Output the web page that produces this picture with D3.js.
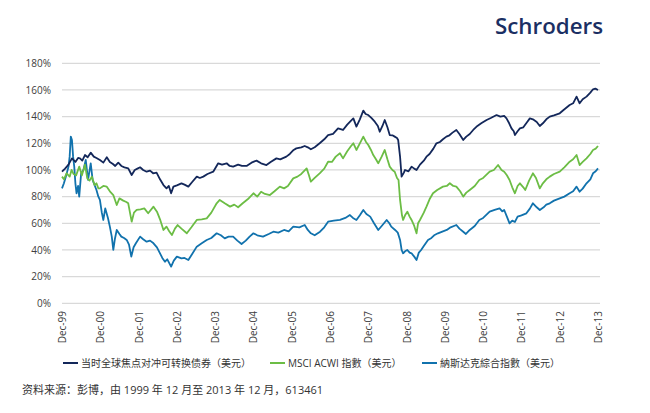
<!DOCTYPE html>
<html><head><meta charset="utf-8">
<script src="https://cdn.jsdelivr.net/npm/d3@7/dist/d3.min.js"></script>
<style>
body{margin:0;background:#fff;}
svg{display:block;font-family:"Open Sans","Noto Sans CJK SC",sans-serif;}
</style></head><body>
<script>
// ---- Data (t = years since Dec-1999, value in %) ----
const yTickValues = [0,20,40,60,80,100,120,140,160,180];
const xTickLabels = ["Dec-99","Dec-00","Dec-01","Dec-02","Dec-03","Dec-04","Dec-05","Dec-06","Dec-07","Dec-08","Dec-09","Dec-10","Dec-11","Dec-12","Dec-13"];
const seriesNames = ["当时全球焦点对冲可转换债券（美元）","MSCI ACWI 指數（美元）","納斯达克綜合指數（美元）"];
const seriesColors = ["#13275a","#6cbd45","#1172ad"];

const convT = [0,0.08,0.17,0.26,0.35,0.42,0.47,0.53,0.6,0.67,0.75,0.83,0.9,0.99,1.08,1.17,1.25,1.33,1.39,1.47,1.55,1.63,1.73,1.82,1.9,1.97,2.04,2.12,2.21,2.3,2.38,2.47,2.56,2.65,2.73,2.79,2.85,2.91,3.0,3.12,3.2,3.3,3.4,3.52,3.6,3.69,3.8,3.95,4.08,4.18,4.3,4.38,4.47,4.6,4.7,4.82,4.95,5.08,5.2,5.34,5.45,5.6,5.7,5.86,5.95,6.05,6.12,6.25,6.34,6.42,6.5,6.6,6.73,6.85,6.95,7.08,7.21,7.34,7.45,7.55,7.61,7.69,7.78,7.87,7.93,8.0,8.08,8.17,8.25,8.3,8.37,8.43,8.5,8.56,8.63,8.69,8.75,8.78,8.83,8.87,8.93,8.96,9.05,9.13,9.2,9.26,9.35,9.45,9.52,9.6,9.7,9.78,9.87,9.95,10.04,10.12,10.2,10.3,10.38,10.48,10.56,10.65,10.74,10.85,10.95,11.09,11.2,11.35,11.45,11.55,11.61,11.68,11.74,11.8,11.83,11.9,11.96,12.05,12.15,12.22,12.3,12.4,12.48,12.56,12.65,12.74,12.85,13.0,13.1,13.26,13.35,13.44,13.52,13.6,13.7,13.8,13.87,13.93,14.0];
const convV = [98.7,101,104,108.7,106,109,108.7,107,111.2,109.5,113,110,109,107.5,105.5,109.5,106,104.5,103,105.5,103,102,101.2,96.2,100,101,102,100,98.7,99.5,97.5,98,93,88.7,86.2,88,82.5,87.5,88.5,90,89,87.5,91,95,94,95,97,98.7,105,104,105,103,102.5,104,103,103,105.5,107,105,103.7,106,108.7,108,110,112,115,116.2,117,118,117,115.5,117,120,123,126.2,127,131.2,130,134,137,138.7,132.5,138,144.5,142,141.2,139,136.2,133,128.7,133,137.5,132,126.2,126,125,124,122.5,110,95,98,100,99,102.5,101,100,104,107,110,112,116,120,121,123,125,126,128,130,127,122.5,125,127,130,133,135,137.5,139,141.2,140,140.5,138.7,135,131.2,129,126.2,129,131.2,132,136,138.7,138,136,133,135,138,140,141,142.5,145,148.7,150,155,150,153,155,158,160.5,161,160];

const msciT = [0,0.05,0.12,0.2,0.25,0.3,0.37,0.45,0.52,0.6,0.66,0.72,0.78,0.85,0.9,0.95,0.99,1.08,1.17,1.25,1.34,1.43,1.5,1.6,1.68,1.73,1.82,1.88,1.95,2.05,2.15,2.25,2.39,2.48,2.56,2.65,2.73,2.8,2.87,2.95,3.02,3.12,3.26,3.38,3.52,3.65,3.78,3.9,4.04,4.12,4.25,4.39,4.5,4.6,4.72,4.85,5.0,5.1,5.2,5.3,5.43,5.55,5.69,5.8,5.9,6.04,6.15,6.25,6.39,6.45,6.5,6.6,6.73,6.85,6.95,7.05,7.15,7.26,7.34,7.45,7.55,7.61,7.69,7.78,7.87,7.94,8.0,8.07,8.13,8.2,8.26,8.35,8.43,8.5,8.56,8.63,8.69,8.75,8.79,8.83,8.88,8.91,8.96,9.02,9.08,9.13,9.2,9.26,9.3,9.35,9.45,9.52,9.6,9.69,9.8,9.95,10.05,10.13,10.22,10.3,10.4,10.48,10.56,10.65,10.78,10.9,11.0,11.17,11.28,11.39,11.48,11.55,11.62,11.69,11.76,11.83,11.9,11.96,12.05,12.1,12.2,12.3,12.38,12.48,12.56,12.65,12.74,12.85,13.0,13.12,13.26,13.35,13.44,13.52,13.6,13.7,13.8,13.87,13.94,14.0];
const msciV = [95,93,97.5,95,100,97,96,102.5,96,104,93.7,92,95,88.7,90,86.2,86.2,88,87.5,84,81.2,73.7,78.7,77,76,75,61.2,68,70,70.5,71.2,67.5,72.5,68.7,63,55,57.5,54,51.2,56,58.7,56,52.5,57,62.5,63,63.7,68,75,77.5,75,72.5,74,72,75,78,82.5,80,83.7,82,81.2,84,87.5,86.2,88,93.7,95,97,101.2,96,91.2,94,97.5,101,106.2,106,110,112.5,108.7,114,118,120,115,120,125,121,118.7,115,111.2,108,105,110,115,108,102.5,100,98.7,94,92.5,77.5,66,62.5,66,68.7,65,62.5,58,52.5,60,62.5,68,72.5,78,82.5,85,87.5,88,90,88,87.5,84,80,83,85,88,92.5,94,98.7,100,103.7,100,98.7,96,92.5,87,82.5,88,90,87,85,92,97.5,94,86.2,90,93,95,97,98.7,102,106.2,108,111.2,103.7,106,108.7,112,115,116,118];

const nasdT = [0,0.05,0.1,0.17,0.2,0.23,0.26,0.29,0.32,0.35,0.38,0.42,0.45,0.5,0.56,0.62,0.68,0.75,0.8,0.9,0.95,0.99,1.04,1.08,1.13,1.2,1.25,1.3,1.34,1.38,1.43,1.5,1.55,1.62,1.69,1.75,1.81,1.87,1.93,2.04,2.12,2.21,2.3,2.39,2.48,2.56,2.62,2.69,2.75,2.85,2.92,3.0,3.12,3.2,3.3,3.4,3.52,3.65,3.78,3.9,4.04,4.15,4.25,4.35,4.47,4.58,4.69,4.8,4.9,5.0,5.1,5.25,5.4,5.52,5.65,5.8,5.92,6.04,6.2,6.34,6.42,6.5,6.6,6.74,6.85,6.95,7.1,7.26,7.4,7.52,7.6,7.69,7.78,7.87,7.95,8.05,8.15,8.26,8.35,8.48,8.55,8.6,8.7,8.77,8.83,8.87,8.91,8.96,9.02,9.08,9.13,9.2,9.26,9.32,9.38,9.45,9.56,9.65,9.72,9.82,9.95,10.05,10.15,10.3,10.38,10.48,10.55,10.65,10.78,10.9,11.0,11.17,11.3,11.43,11.5,11.55,11.62,11.69,11.76,11.83,11.9,12.0,12.13,12.22,12.3,12.4,12.48,12.58,12.65,12.74,12.85,13.0,13.12,13.26,13.35,13.44,13.52,13.6,13.7,13.8,13.87,13.94,14.0];
const nasdV = [86.2,90,95,102.5,110,125,122.5,110,102.5,90,82.5,88,80,97.5,100,107.5,92.5,105,92.5,85,80,77.5,68,62.5,71.2,64,57.5,50,40,48,55,52,50,49,47.5,44,35,42,45,50,48,46.2,47,45,42,37.5,34,31.2,33,27.5,32,35,33.7,34,32.5,37,42.5,45,47.5,49,52.5,51,48.7,50,50,47,44.5,47,50,52.5,51,50,52,53.7,53,55,54,57.5,57,58.7,55,52.5,51,53.7,57,61.2,62,62.5,64,66.2,64,62.5,66,70,67,65,60,55,58,62.5,60,57.5,55,53,47.5,40,37.5,39,40,38,37.5,35,32.5,38,40,43,47.5,49,51,52.5,54,55,57,58.7,56,53.7,52,55,58,62.5,64,68.7,70,71.2,69,70,65,60,62,61,65,66,67.5,71,75,72,70,72,74,75,77,78.7,80,82.5,84,87.5,83.7,86,90,93,97.5,99,101.2];

const seriesT = [convT, msciT, nasdT];
const seriesV = [convV, msciV, nasdV];

// ---- Drawing ----
const W = 650, H = 413;
const svg = d3.select("body").append("svg").attr("width", W).attr("height", H);

const x = d3.scaleLinear().domain([0, 14]).range([62, 598]);
const y = d3.scaleLinear().domain([0, 180]).range([303.3, 63.3]);
const gridX1 = 62, gridX2 = 600;

// logo
svg.append("text").attr("x", 495).attr("y", 34)
  .attr("font-family", "'Open Sans', sans-serif").attr("font-weight", 600)
  .attr("font-size", 21).attr("fill", "#1b2f63")
  .attr("textLength", 108).attr("lengthAdjust", "spacingAndGlyphs")
  .text("Schroders");

// gridlines
svg.append("g").selectAll("line").data(yTickValues).join("line")
  .attr("x1", gridX1).attr("x2", gridX2)
  .attr("y1", d => y(d)).attr("y2", d => y(d))
  .attr("stroke", "#d9d9d9").attr("stroke-width", 1.3);

// y axis labels
const yAxis = d3.axisLeft(y).tickValues(yTickValues).tickSize(0).tickPadding(0)
  .tickFormat(d => d + "%");
const gy = svg.append("g").attr("transform", "translate(51,0)").call(yAxis);
gy.select(".domain").remove();
gy.selectAll("text").attr("font-size", 10).attr("fill", "#404040")
  .attr("font-family", "'Open Sans', sans-serif");

// x axis labels
const xAxis = d3.axisBottom(x).tickValues(d3.range(0, 15)).tickSize(0).tickPadding(0)
  .tickFormat(d => xTickLabels[d]);
const gx = svg.append("g").attr("transform", "translate(0,311)").call(xAxis);
gx.select(".domain").remove();
gx.selectAll("text").attr("font-size", 10).attr("fill", "#404040")
  .attr("font-family", "'Open Sans', sans-serif")
  .attr("text-anchor", "end").attr("dy", null)
  .attr("transform", "rotate(-90)").attr("x", 0).attr("y", 0)
  .attr("dx", 0).attr("dy", "0.35em");

// lines (draw green & blue first, navy on top? keep order: blue, green, navy)
const line = d3.line().x(d => x(d[0])).y(d => y(d[1]));
[2, 1, 0].forEach(i => {
  const pts = seriesT[i].map((t, k) => [t, seriesV[i][k]]);
  svg.append("path").datum(pts).attr("d", line)
    .attr("fill", "none").attr("stroke", seriesColors[i])
    .attr("stroke-width", 1.8).attr("stroke-linejoin", "round");
});

// legend
const legendX = [63, 270, 422];
const lg = svg.append("g");
seriesNames.forEach((n, i) => {
  lg.append("line").attr("x1", legendX[i]).attr("x2", legendX[i] + 15)
    .attr("y1", 363).attr("y2", 363).attr("stroke", seriesColors[i]).attr("stroke-width", 2);
  lg.append("text").attr("x", legendX[i] + 18).attr("y", 367)
    .attr("font-size", 10).attr("fill", "#333").text(n);
});

// source
svg.append("text").attr("x", 22).attr("y", 394).attr("font-size", 11).attr("fill", "#333")
  .text("资料来源：彭博，由 1999 年 12 月至 2013 年 12 月，613461");
</script>
</body></html>
